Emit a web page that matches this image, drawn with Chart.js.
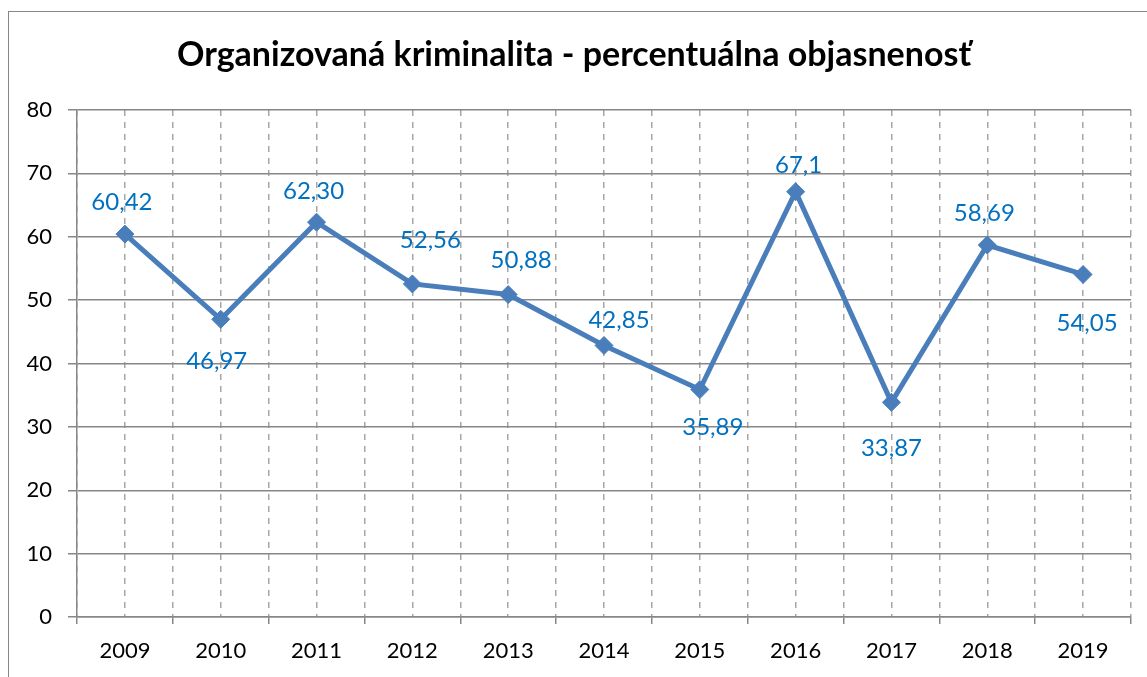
<!DOCTYPE html>
<html><head><meta charset="utf-8">
<script src="https://cdn.jsdelivr.net/npm/chart.js@4.4.0/dist/chart.umd.min.js"></script>
<style>
html,body{margin:0;padding:0;background:#fff;overflow:hidden;}
#frame{position:absolute;left:8px;top:11px;width:1200px;height:700px;border:1px solid #878787;box-sizing:border-box;}
#c{position:absolute;left:0;top:0;}
</style></head><body>
<div id="frame"></div>
<canvas id="c" width="1147" height="677"></canvas>
<script>
const years = ['2009','2010','2011','2012','2013','2014','2015','2016','2017','2018','2019'];
const clearanceRates = [60.42, 46.97, 62.30, 52.56, 50.88, 42.85, 35.89, 67.1, 33.87, 58.69, 54.05];
const valueLabels = ['60,42','46,97','62,30','52,56','50,88','42,85','35,89','67,1','33,87','58,69','54,05'];
const yTickValues = [0, 10, 20, 30, 40, 50, 60, 70, 80];
const chartTitle = 'Organizovaná kriminalita - percentuálna objasnenosť';

// placement of value labels relative to their points (px)
const labelOffsetX = [-3, -4, -3, 18, 13, 15, 13, 3, 0, -3, 4];
const labelOffsetY = [-32, 42, -31, -44, -34, -25, 38, -26, 46, -32, 49];

const FONT = 'Lato, "Open Sans", sans-serif';
const SOLID = '#878787';
const DASHED = '#a6a6a6';

const valueLabelPlugin = {
  id: 'valueLabels',
  afterDatasetsDraw(chart) {
    const meta = chart.getDatasetMeta(0);
    const ctx = chart.ctx;
    ctx.save();
    ctx.font = '24px ' + FONT;
    ctx.fillStyle = '#0070C0';
    ctx.textAlign = 'center';
    ctx.textBaseline = 'middle';
    meta.data.forEach((pt, i) => {
      ctx.fillText(valueLabels[i], pt.x + labelOffsetX[i], pt.y + labelOffsetY[i]);
    });
    ctx.restore();
  }
};

new Chart(document.getElementById('c'), {
  type: 'line',
  data: {
    labels: years,
    datasets: [{
      data: clearanceRates,
      borderColor: '#4A7EBB',
      backgroundColor: '#4A7EBB',
      borderWidth: 5,
      tension: 0,
      pointStyle: 'rectRot',
      pointRadius: 9,
      pointBorderWidth: 1,
      pointBackgroundColor: '#4A7EBB',
      pointBorderColor: '#4A7EBB',
      pointHoverRadius: 9
    }]
  },
  options: {
    responsive: false,
    devicePixelRatio: 1,
    animation: false,
    events: [],
    layout: { padding: { left: 17, right: 16, top: 12, bottom: 0 } },
    plugins: {
      legend: { display: false },
      tooltip: { enabled: false },
      title: {
        display: true,
        text: chartTitle,
        color: '#000',
        font: { family: FONT, size: 34, weight: 'bold', lineHeight: 1.2 },
        padding: { top: 23, bottom: 34.2 }
      }
    },
    scales: {
      x: {
        type: 'category',
        position: 'bottom',
        offset: true,
        grid: {
          offset: true,
          color: DASHED,
          lineWidth: 1.5,
          tickLength: 7,
          tickColor: SOLID,
          tickWidth: 1.5,
          tickBorderDash: []
        },
        border: { display: true, color: SOLID, width: 1.5, dash: [6, 6] },
        ticks: { color: '#000', font: { family: FONT, size: 22 }, padding: 14, maxRotation: 0 },
        afterFit: s => { s.height = 60; }
      },
      x2: {
        type: 'category',
        position: 'top',
        offset: true,
        grid: { offset: false, color: DASHED, lineWidth: 1.5, drawTicks: false },
        border: { display: false, dash: [6, 6] },
        ticks: { display: false },
        afterFit: s => { s.height = 0; }
      },
      y: {
        min: 0,
        max: 80,
        afterBuildTicks: s => { s.ticks = yTickValues.map(v => ({ value: v })); },
        grid: { color: SOLID, lineWidth: 1.5, tickLength: 9, tickColor: SOLID },
        border: { display: true, color: SOLID, width: 1.5 },
        ticks: { color: '#000', font: { family: FONT, size: 22 }, padding: 16 },
        afterFit: s => { s.width = 60; }
      }
    }
  },
  plugins: [valueLabelPlugin]
});
</script>
</body></html>
